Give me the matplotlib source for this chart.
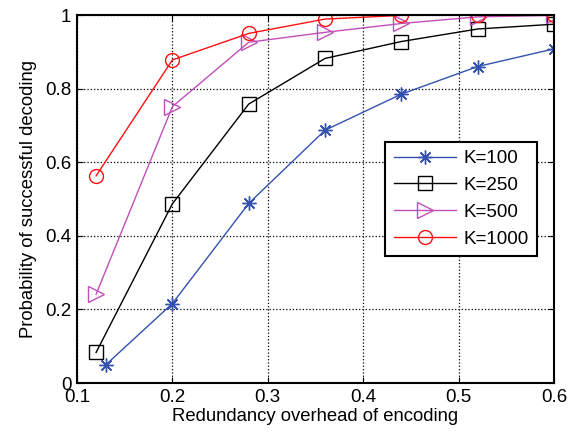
import matplotlib
matplotlib.use("Agg")
import matplotlib.pyplot as plt

plt.rcParams['font.family'] = ['Liberation Sans', 'DejaVu Sans']

x_k100 = [0.13, 0.20, 0.28, 0.36, 0.44, 0.52, 0.60]
y_k100 = [0.049, 0.216, 0.488, 0.687, 0.785, 0.860, 0.908]
x_other = [0.12, 0.20, 0.28, 0.36, 0.44, 0.52, 0.60]
y_k250 = [0.083, 0.487, 0.758, 0.882, 0.928, 0.962, 0.975]
y_k500 = [0.241, 0.751, 0.926, 0.953, 0.977, 0.995, 0.999]
y_k1000 = [0.563, 0.878, 0.950, 0.989, 0.999, 1.0, 1.0]

labels = ['K=100', 'K=250', 'K=500', 'K=1000']
xticks = [0.1, 0.2, 0.3, 0.4, 0.5, 0.6]
yticks = [0, 0.2, 0.4, 0.6, 0.8, 1]

fig = plt.figure(figsize=(5.76, 4.34), dpi=100)
ax = fig.add_axes([0.1337, 0.1175, 0.8281, 0.8479])

ax.plot(x_k100, y_k100, color='#3352B0', marker=(8, 2, 0), markersize=10, lw=1.0,
        markeredgewidth=1.0, label=labels[0])
ax.plot(x_other, y_k250, color='black', marker='s', markersize=10, lw=1.0,
        markerfacecolor='none', markeredgewidth=1.0, label=labels[1])
ax.plot(x_other, y_k500, color='#C050B8', marker='>', markersize=11, lw=1.0,
        markerfacecolor='none', markeredgewidth=1.0, label=labels[2])
ax.plot(x_other, y_k1000, color='#FF1010', marker='o', markersize=10, lw=1.0,
        markerfacecolor='none', markeredgewidth=1.0, label=labels[3])

ax.set_xlim(0.1, 0.6)
ax.set_ylim(0, 1)
ax.set_xticks(xticks)
ax.set_xticklabels(['0.1', '0.2', '0.3', '0.4', '0.5', '0.6'])
ax.set_yticks(yticks)
ax.set_yticklabels(['0', '0.2', '0.4', '0.6', '0.8', '1'])
ax.grid(True, color='black', linestyle=':', linewidth=0.9)
ax.tick_params(direction='in', labelsize=13.5, length=4, top=True, right=True)
ax.tick_params(axis='x', pad=4)
ax.tick_params(axis='y', pad=4)
for s in ax.spines.values():
    s.set_linewidth(1.5)
ax.set_xlabel('Redundancy overhead of encoding', fontsize=13.3, labelpad=2)
ax.set_ylabel('Probability of successful decoding', fontsize=13.3, labelpad=6)

leg = ax.legend(loc='upper right', bbox_to_anchor=(0.964, 0.656), fontsize=13.5,
                fancybox=False, framealpha=1, edgecolor='black',
                handlelength=3.3, borderpad=0.45, labelspacing=0.52,
                handletextpad=0.4, borderaxespad=0)
leg.get_frame().set_linewidth(1.5)

fig.savefig('out.png', dpi=100)
